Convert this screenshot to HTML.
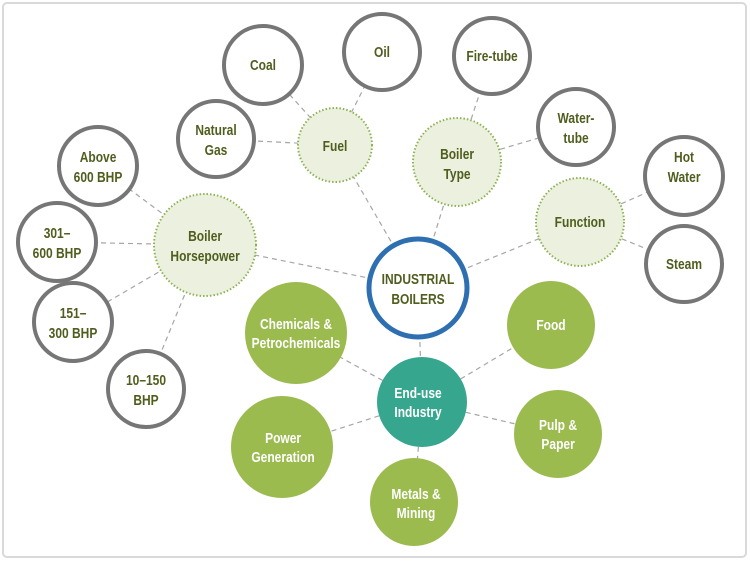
<!DOCTYPE html>
<html><head><meta charset="utf-8"><style>
html,body{margin:0;padding:0;background:#fff;width:750px;height:562px;overflow:hidden}
svg text{font-family:"Liberation Sans",sans-serif;font-weight:bold;font-size:15px;text-anchor:middle;transform-box:fill-box;transform-origin:center;transform:scaleX(0.8)}
</style></head><body>
<svg width="750" height="562" viewBox="0 0 750 562">
<rect x="3" y="3" width="743" height="554" rx="4" fill="none" stroke="#d9d9d9" stroke-width="2"/>
<g stroke="#a6a6a6" stroke-width="1.2" stroke-dasharray="5,4" fill="none">
<line x1="418" y1="288" x2="335" y2="145"/>
<line x1="418" y1="288" x2="457" y2="162"/>
<line x1="418" y1="288" x2="580" y2="222"/>
<line x1="418" y1="288" x2="205" y2="245"/>
<line x1="418" y1="288" x2="422" y2="402"/>
<line x1="335" y1="145" x2="263" y2="65"/>
<line x1="335" y1="145" x2="382" y2="52"/>
<line x1="335" y1="145" x2="216" y2="139"/>
<line x1="457" y1="162" x2="492" y2="56"/>
<line x1="457" y1="162" x2="576" y2="127"/>
<line x1="580" y1="222" x2="684" y2="176"/>
<line x1="580" y1="222" x2="684" y2="264"/>
<line x1="205" y1="245" x2="98" y2="166"/>
<line x1="205" y1="245" x2="57" y2="242"/>
<line x1="205" y1="245" x2="73" y2="322"/>
<line x1="205" y1="245" x2="146" y2="389"/>
<line x1="422" y1="402" x2="296" y2="333"/>
<line x1="422" y1="402" x2="551" y2="325"/>
<line x1="422" y1="402" x2="282" y2="447"/>
<line x1="422" y1="402" x2="558" y2="434"/>
<line x1="422" y1="402" x2="414" y2="502"/>
</g>
<g fill="#fff" stroke="#767676" stroke-width="4">
<circle cx="263" cy="65" r="39"/><circle cx="382" cy="52" r="38"/><circle cx="492" cy="56" r="38"/>
<circle cx="216" cy="139" r="38"/><circle cx="576" cy="127" r="38"/><circle cx="684" cy="176" r="39"/>
<circle cx="684" cy="264" r="38"/><circle cx="98" cy="166" r="39"/><circle cx="57" cy="242" r="39"/>
<circle cx="73" cy="322" r="39"/><circle cx="146" cy="389" r="38"/>
</g>
<g fill="#ebf1de" stroke="#8fb153" stroke-width="2" stroke-dasharray="1.5,2">
<circle cx="335" cy="145" r="37"/><circle cx="457" cy="162" r="44"/><circle cx="580" cy="222" r="44"/><circle cx="205" cy="245" r="51"/>
</g>
<circle cx="418" cy="288" r="49" fill="#fff" stroke="#2e6fb2" stroke-width="5"/>
<g fill="#9bbb4f">
<circle cx="296" cy="333" r="51"/><circle cx="551" cy="325" r="44"/><circle cx="282" cy="447" r="51"/>
<circle cx="558" cy="434" r="44"/><circle cx="414" cy="502" r="44"/>
</g>
<circle cx="422" cy="402" r="45" fill="#36a78e"/>
<g fill="#4f5e1e">
<text x="263" y="70">Coal</text><text x="382" y="57">Oil</text><text x="492" y="61">Fire-tube</text>
<text x="216" y="135">Natural</text><text x="216" y="155">Gas</text>
<text x="576" y="123">Water-</text><text x="576" y="143">tube</text>
<text x="684" y="162">Hot</text><text x="684" y="182">Water</text>
<text x="684" y="269">Steam</text>
<text x="98" y="162">Above</text><text x="98" y="182">600 BHP</text>
<text x="57" y="238">301–</text><text x="57" y="258">600 BHP</text>
<text x="73" y="318">151–</text><text x="73" y="338">300 BHP</text>
<text x="146" y="385">10–150</text><text x="146" y="405">BHP</text>
<text x="335" y="151">Fuel</text>
<text x="457" y="159">Boiler</text><text x="457" y="179">Type</text>
<text x="580" y="227">Function</text>
<text x="205" y="241">Boiler</text><text x="205" y="261">Horsepower</text>
<text x="418" y="284">INDUSTRIAL</text><text x="418" y="304">BOILERS</text>
</g>
<g fill="#fff">
<text x="296" y="329">Chemicals &amp;</text><text x="296" y="348">Petrochemicals</text>
<text x="551" y="330">Food</text>
<text x="283" y="443">Power</text><text x="283" y="462">Generation</text>
<text x="558" y="430">Pulp &amp;</text><text x="558" y="449">Paper</text>
<text x="416" y="499">Metals &amp;</text><text x="416" y="518">Mining</text>
<text x="418" y="398">End-use</text><text x="418" y="417">Industry</text>
</g>
</svg>
</body></html>
